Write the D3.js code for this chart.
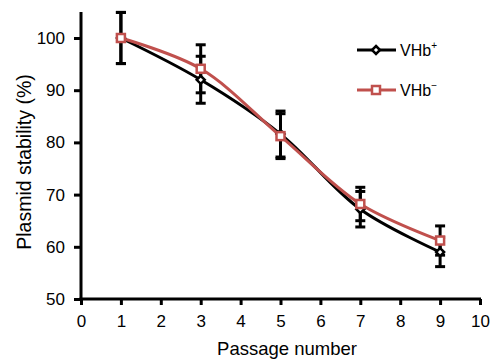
<!DOCTYPE html>
<html>
<head>
<meta charset="utf-8">
<script src="https://cdn.jsdelivr.net/npm/d3@7"></script>
<style>
body { margin: 0; background: #fff; }
text { font-family: "Liberation Sans", Arial, sans-serif; }
</style>
</head>
<body>
<svg id="chart" width="491" height="361"></svg>
<script>
// passage numbers
var passages = [1, 3, 5, 7, 9];
// VHb+ series
var vhbPlus = [100, 92, 81.6, 67.2, 59];
var vhbPlusErr = [4.9, 4.5, 4.4, 3.4, 2.8];
// VHb- series
var vhbMinus = [100, 94.1, 81.2, 68.2, 61.2];
var vhbMinusErr = [4.9, 4.6, 4.3, 3.2, 2.8];
var xTicks = [0, 1, 2, 3, 4, 5, 6, 7, 8, 9, 10];
var yTicks = [50, 60, 70, 80, 90, 100];

var svg = d3.select("#chart");
var red = "#c0504d";

var x = d3.scaleLinear().domain([0, 10]).range([81, 480]);
var y = d3.scaleLinear().domain([50, 100]).range([299, 38]);

var series = [
	{ name: "VHb", sup: "+", values: vhbPlus, err: vhbPlusErr, color: "#000", marker: "diamond" },
	{ name: "VHb", sup: "\u2212", values: vhbMinus, err: vhbMinusErr, color: red, marker: "square" }
];

// axes
var yAxis = svg.append("g")
	.attr("transform", "translate(" + x(0) + ",0)")
	.call(d3.axisLeft(y).tickValues(yTicks).tickSize(7).tickPadding(9));
yAxis.select(".domain").remove();
yAxis.append("line")
	.attr("x1", 0).attr("x2", 0)
	.attr("y1", 12).attr("y2", y(50) + 1.5)
	.attr("stroke", "#000").attr("stroke-width", 3);

var xAxis = svg.append("g")
	.attr("transform", "translate(0," + y(50) + ")")
	.call(d3.axisBottom(x).tickValues(xTicks).tickSize(6).tickPadding(10));
xAxis.select(".domain").remove();
xAxis.append("line")
	.attr("x1", x(0) - 1.5).attr("x2", x(10) + 1)
	.attr("y1", 0).attr("y2", 0)
	.attr("stroke", "#000").attr("stroke-width", 3);

svg.selectAll(".tick line").attr("stroke", "#000").attr("stroke-width", 3);
svg.selectAll(".tick text")
	.attr("fill", "#000")
	.style("font-size", "17px")
	.style("font-family", "Liberation Sans, Arial, sans-serif");

// axis titles
svg.append("text")
	.attr("x", 287).attr("y", 355)
	.attr("text-anchor", "middle")
	.style("font-size", "18.5px")
	.text("Passage number");
svg.append("text")
	.attr("transform", "translate(31,162) rotate(-90)")
	.attr("text-anchor", "middle")
	.style("font-size", "19.5px")
	.text("Plasmid stability (%)");

var line = d3.line()
	.x(function(d, i){ return x(passages[i]); })
	.y(function(d){ return y(d); })
	.curve(d3.curveCatmullRom.alpha(0.5));

// lines
series.forEach(function(s){
	svg.append("path")
		.attr("d", line(s.values))
		.attr("fill", "none")
		.attr("stroke", s.color)
		.attr("stroke-width", 3);
});

// error bars
series.forEach(function(s){
	var g = svg.append("g").attr("stroke", "#000").attr("stroke-width", 3);
	s.values.forEach(function(v, i){
		var cx = x(passages[i]);
		var top = y(v + s.err[i]), bot = y(v - s.err[i]);
		g.append("line").attr("x1", cx).attr("x2", cx).attr("y1", top).attr("y2", bot);
		g.append("line").attr("x1", cx - 5).attr("x2", cx + 5).attr("y1", top).attr("y2", top);
		g.append("line").attr("x1", cx - 5).attr("x2", cx + 5).attr("y1", bot).attr("y2", bot);
	});
});

function drawMarker(g, type, cx, cy, color){
	if (type == "square") {
		g.append("rect")
			.attr("x", cx - 4).attr("y", cy - 4)
			.attr("width", 8).attr("height", 8)
			.attr("fill", "#fff").attr("stroke", color).attr("stroke-width", 2.5);
	} else {
		g.append("path")
			.attr("d", "M" + cx + "," + (cy - 4) + "L" + (cx + 4) + "," + cy + "L" + cx + "," + (cy + 4) + "L" + (cx - 4) + "," + cy + "Z")
			.attr("fill", "#fff").attr("stroke", color).attr("stroke-width", 2.5);
	}
}

// markers
series.forEach(function(s){
	var g = svg.append("g");
	s.values.forEach(function(v, i){
		drawMarker(g, s.marker, x(passages[i]), y(v), s.color);
	});
});

// legend
series.forEach(function(s, i){
	var ly = 50 + i * 40;
	var g = svg.append("g");
	g.append("line")
		.attr("x1", 357).attr("x2", 396)
		.attr("y1", ly).attr("y2", ly)
		.attr("stroke", s.color).attr("stroke-width", 3);
	drawMarker(g, s.marker, 376, ly, s.color);
	var t = g.append("text")
		.attr("x", 400).attr("y", ly + 6)
		.style("font-size", "16px")
		.text(s.name);
	t.append("tspan")
		.attr("dy", -7)
		.style("font-size", "10px")
		.text(s.sup);
});
</script>
</body>
</html>
